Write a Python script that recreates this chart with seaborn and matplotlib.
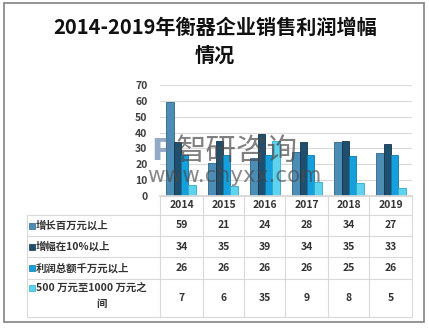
import matplotlib
matplotlib.use("Agg")
import matplotlib.pyplot as plt
import seaborn as sns
import pandas as pd
from matplotlib.patches import Rectangle

years = ["2014", "2015", "2016", "2017", "2018", "2019"]
series_names = ["增长百万元以上", "增幅在10%以上", "利润总额千万元以上", "500 万元至1000 万元之间"]
growth_million = [59, 21, 24, 28, 34, 27]
growth_10pct = [34, 35, 39, 34, 35, 33]
profit_10m = [26, 26, 26, 26, 25, 26]
between_5m_10m = [7, 6, 35, 9, 8, 5]
series_values = [growth_million, growth_10pct, profit_10m, between_5m_10m]
colors = ["#4B8DB5", "#1F4F6E", "#159FDC", "#5ED3F0"]
edge_colors = ["#2F6485", "#13344A", "#0E78A8", "#34A9C8"]

sns.set_theme(style="white")
plt.rcParams["font.family"] = ["Noto Sans CJK SC", "DejaVu Sans"]

rows = []
for name, vals in zip(series_names, series_values):
    for y, v in zip(years, vals):
        rows.append({"year": y, "series": name, "value": v})
df = pd.DataFrame(rows)

W, H = 429, 328
fig = plt.figure(figsize=(W / 100, H / 100), dpi=100)

# plot area in pixel coordinates
px_l, px_r, px_t, px_b = 160, 412, 85, 196
ax = fig.add_axes([px_l / W, 1 - px_b / H, (px_r - px_l) / W, (px_b - px_t) / H])
sns.barplot(data=df, x="year", y="value", hue="series", palette=colors,
            width=0.7, gap=0, saturation=1, ax=ax, legend=False)
for i, cont in enumerate(ax.containers):
    for bar in cont:
        bar.set_edgecolor(edge_colors[i])
        bar.set_linewidth(0.6)
ax.set_ylim(0, 70)
ax.set_xlim(-0.5, len(years) - 0.5)
ax.set_yticks(range(0, 71, 10))
ax.yaxis.grid(True, color="#D9D9D9", linewidth=0.8)
ax.set_axisbelow(True)
ax.set_xticks([])
ax.set_xlabel("")
ax.set_ylabel("")
for s in ["top", "right", "left"]:
    ax.spines[s].set_visible(False)
ax.spines["bottom"].set_color("#D9D9D9")
ax.tick_params(axis="y", length=0, pad=9, labelsize=7.5, labelcolor="#404040")
for lab in ax.get_yticklabels():
    lab.set_fontweight("bold")

# overlay in pixel coordinates for frame, title, table and watermark
ov = fig.add_axes([0, 0, 1, 1], zorder=5)
ov.set_xlim(0, W)
ov.set_ylim(H, 0)
ov.axis("off")
ov.patch.set_alpha(0)

ov.add_patch(Rectangle((4, 3), 420, 319, fill=False, edgecolor="#8C8C8C", linewidth=1.3))

ov.text(215, 27, "2014-2019年衡器企业销售利润增幅", ha="center", va="center",
        fontsize=14.5, fontweight="bold", color="#111111")
ov.text(215, 55, "情况", ha="center", va="center",
        fontsize=14.5, fontweight="bold", color="#111111")

# data table below the axis
grid_c = "#D9D9D9"
col_x = [160, 203, 244, 285, 328, 369, 412]
row_y = [196, 215, 236, 257, 279, 317]
tbl_left = 27
ov.plot([col_x[0], col_x[-1]], [row_y[0]] * 2, color=grid_c, lw=0.8)
for yv in row_y[1:]:
    ov.plot([tbl_left, col_x[-1]], [yv, yv], color=grid_c, lw=0.8)
ov.plot([tbl_left, tbl_left], [row_y[1], row_y[-1]], color=grid_c, lw=0.8)
for xv in col_x:
    ov.plot([xv, xv], [row_y[0], row_y[-1]], color=grid_c, lw=0.8)

txt_c = "#333333"
for j, y in enumerate(years):
    cx = (col_x[j] + col_x[j + 1]) / 2
    ov.text(cx, (row_y[0] + row_y[1]) / 2, y, ha="center", va="center",
            fontsize=7.5, fontweight="bold", color=txt_c)
    for i, vals in enumerate(series_values):
        cy = (row_y[i + 1] + row_y[i + 2]) / 2
        ov.text(cx, cy, str(vals[j]), ha="center", va="center",
                fontsize=7.5, fontweight="bold", color=txt_c)

for i, name in enumerate(series_names):
    y0, y1 = row_y[i + 1], row_y[i + 2]
    if i < 3:
        cy = (y0 + y1) / 2
        ov.add_patch(Rectangle((29, cy - 3), 6, 6, facecolor=colors[i],
                               edgecolor=edge_colors[i], linewidth=0.5))
        ov.text(36, cy, name, ha="left", va="center", fontsize=7.5,
                fontweight="bold", color=txt_c)
    else:
        cy = 288
        ov.add_patch(Rectangle((29, cy - 3), 6, 6, facecolor=colors[i],
                               edgecolor=edge_colors[i], linewidth=0.5))
        ov.text(36, cy, name[:-1], ha="left", va="center", fontsize=7.5,
                fontweight="bold", color=txt_c)
        ov.text(101, 304, name[-1], ha="center", va="center", fontsize=7.5,
                fontweight="bold", color=txt_c)

# watermark
ov.text(176, 151, "智研咨询", ha="left", va="center", fontsize=22,
        color="#4A4A4A", alpha=0.7)
ov.text(147, 176, "www.chyxx.com", ha="left", va="center", fontsize=15.5,
        color="#4A4A4A", alpha=0.65, family="DejaVu Sans")
ov.text(162, 151, "P", ha="center", va="center", fontsize=22, fontweight="bold",
        color="#5A7FA8", alpha=0.65, family="DejaVu Sans")

fig.savefig("out.png", dpi=100)
